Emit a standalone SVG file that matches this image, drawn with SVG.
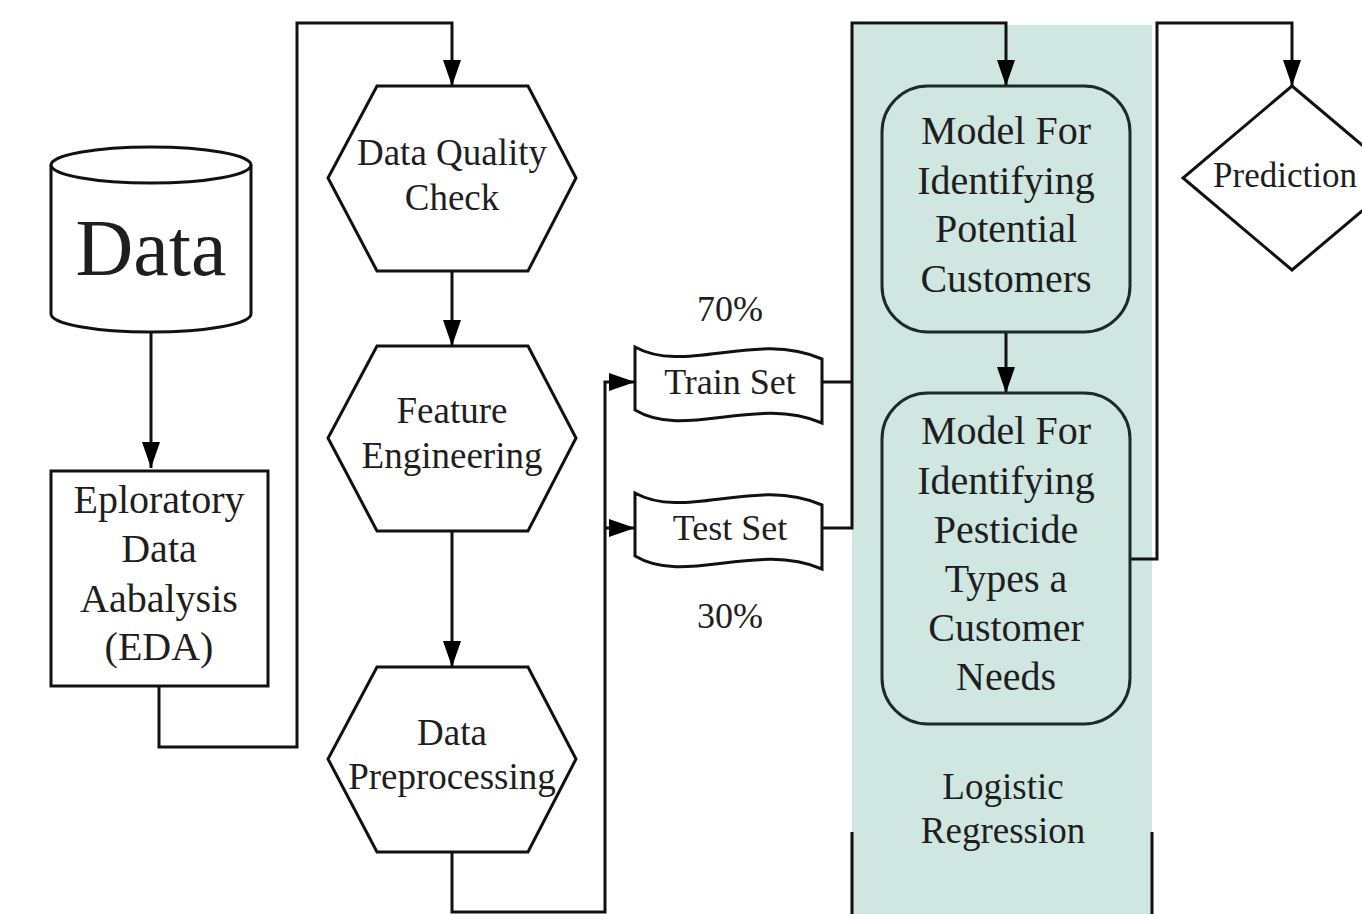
<svg xmlns="http://www.w3.org/2000/svg" width="1362" height="914" viewBox="0 0 1362 914">
<style>
.t{font-family:"Liberation Serif","Times New Roman",serif;fill:#1e1e1e;text-anchor:middle}
.s{fill:#fff;stroke:#111;stroke-width:3}
.m{fill:#d0e6e1;stroke:#1b2b27;stroke-width:3}
.c{fill:none;stroke:#111;stroke-width:3}
</style>
<defs>
<marker id="a" markerUnits="userSpaceOnUse" markerWidth="28" markerHeight="20" refX="26" refY="10" orient="auto">
<path d="M0,1 L26,10 L0,19 Z" fill="#000"/>
</marker>
</defs>
<rect id="lane" x="852" y="25" width="300" height="889" fill="#d0e6e1"/>
<g id="connectors">
<path class="c" d="M852,832 V914 M1152,832 V914"/>
<path class="c" d="M151,332 V468" marker-end="url(#a)"/>
<path class="c" d="M159,686 V747 H297 V23 H452 V86" marker-end="url(#a)"/>
<path class="c" d="M452,271 V346" marker-end="url(#a)"/>
<path class="c" d="M452,531 V667" marker-end="url(#a)"/>
<path class="c" d="M452,852 V912 H605 V382 H635" marker-end="url(#a)"/>
<path class="c" d="M605,528 H635" marker-end="url(#a)"/>
<path class="c" d="M822,382 H852 M822,528 H852 V23 H1006 V86" marker-end="url(#a)"/>
<path class="c" d="M1006,332 V393" marker-end="url(#a)"/>
<path class="c" d="M1130,559 H1157 V23 H1292 V86" marker-end="url(#a)"/>
</g>
<g id="data">
<path class="s" d="M51,165 A100,18 0 0 1 251,165 L251,314 A100,18 0 0 1 51,314 Z"/>
<path class="c" d="M51,165 A100,18 0 0 0 251,165"/>
<text class="t" x="151" y="275" font-size="80">Data</text>
</g>
<g id="eda">
<rect class="s" x="51" y="471" width="217" height="215"/>
<text class="t" x="159" y="513" font-size="40">Eploratory</text>
<text class="t" x="159" y="562" font-size="40">Data</text>
<text class="t" x="159" y="612" font-size="40">Aabalysis</text>
<text class="t" x="159" y="660" font-size="40">(EDA)</text>
</g>
<g id="dqc">
<path class="s" d="M377,86 H528 L576,178 L528,271 H377 L328,178 Z"/>
<text class="t" x="452" y="165" font-size="37">Data Quality</text>
<text class="t" x="452" y="210" font-size="37">Check</text>
</g>
<g id="fe">
<path class="s" d="M377,346 H528 L576,438 L528,531 H377 L328,438 Z"/>
<text class="t" x="452" y="423" font-size="37">Feature</text>
<text class="t" x="452" y="468" font-size="37">Engineering</text>
</g>
<g id="dp">
<path class="s" d="M377,667 H528 L576,759 L528,852 H377 L328,759 Z"/>
<text class="t" x="452" y="745" font-size="37">Data</text>
<text class="t" x="452" y="789" font-size="37">Preprocessing</text>
</g>
<g id="train">
<text class="t" x="730" y="321" font-size="36">70%</text>
<path class="s" d="M635,347 C685,375 755,330 822,359 L822,423 C755,395 685,440 635,410 Z"/>
<text class="t" x="730" y="394" font-size="36">Train Set</text>
</g>
<g id="test">
<path class="s" d="M635,493 C685,521 755,476 822,505 L822,569 C755,541 685,586 635,556 Z"/>
<text class="t" x="730" y="540" font-size="36">Test Set</text>
<text class="t" x="730" y="628" font-size="36">30%</text>
</g>
<g id="model1">
<rect class="m" x="882" y="86" width="248" height="246" rx="46"/>
<text class="t" x="1006" y="144" font-size="40">Model For</text>
<text class="t" x="1006" y="194" font-size="40">Identifying</text>
<text class="t" x="1006" y="242" font-size="40">Potential</text>
<text class="t" x="1006" y="292" font-size="40">Customers</text>
</g>
<g id="model2">
<rect class="m" x="882" y="393" width="248" height="331" rx="46"/>
<text class="t" x="1006" y="444" font-size="40">Model For</text>
<text class="t" x="1006" y="494" font-size="40">Identifying</text>
<text class="t" x="1006" y="543" font-size="40">Pesticide</text>
<text class="t" x="1006" y="592" font-size="40">Types a</text>
<text class="t" x="1006" y="641" font-size="40">Customer</text>
<text class="t" x="1006" y="690" font-size="40">Needs</text>
</g>
<g id="lr">
<text class="t" x="1003" y="799" font-size="37">Logistic</text>
<text class="t" x="1003" y="843" font-size="37">Regression</text>
</g>
<g id="prediction">
<path class="s" d="M1292,86 L1401,178 L1292,270 L1183,178 Z"/>
<text class="t" x="1285" y="187" font-size="35">Prediction</text>
</g>
</svg>
